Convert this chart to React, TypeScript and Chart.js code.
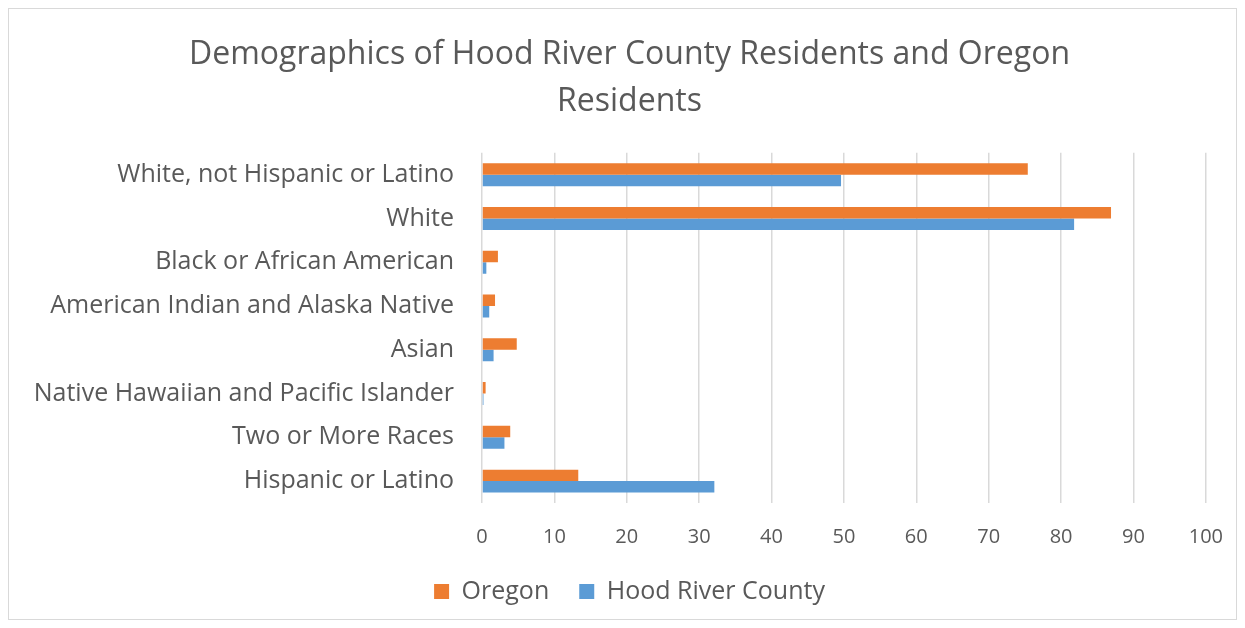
import React, { useEffect, useRef } from "react";
import { Chart, registerables } from "chart.js";

Chart.register(...registerables);

const categories = [
  "White, not Hispanic or Latino",
  "White",
  "Black or African American",
  "American Indian and Alaska Native",
  "Asian",
  "Native Hawaiian and Pacific Islander",
  "Two or More Races",
  "Hispanic or Latino",
];
const oregon = [75.4, 86.9, 2.2, 1.8, 4.8, 0.5, 3.9, 13.3];
const hoodRiver = [49.6, 81.8, 0.6, 1.0, 1.6, 0.2, 3.1, 32.1];
const titleLines = ["Demographics of Hood River County Residents and Oregon", "Residents"];

const FONT = "'Open Sans', 'Noto Sans', sans-serif";
const TEXT = "#595959";

export default function App() {
  const ref = useRef<HTMLCanvasElement | null>(null);
  useEffect(() => {
    document.body.style.margin = "0";
    const chart = new Chart(ref.current!, {
      type: "bar",
      data: {
        labels: categories,
        datasets: [
          { label: "Oregon", data: oregon, backgroundColor: "#ED7D31", categoryPercentage: 0.524, barPercentage: 1 },
          { label: "Hood River County", data: hoodRiver, backgroundColor: "#5B9BD5", categoryPercentage: 0.524, barPercentage: 1 },
        ],
      },
      options: {
        indexAxis: "y",
        animation: false,
        responsive: false,
        layout: { padding: { top: 32, right: 0, left: 14, bottom: 14 } },
        plugins: {
          title: {
            display: true,
            text: titleLines,
            color: TEXT,
            font: { family: FONT, size: 32, weight: "normal", lineHeight: 1.45 },
            padding: { top: 0, bottom: 28 },
          },
          legend: {
            position: "bottom",
            labels: {
              color: TEXT,
              font: { family: FONT, size: 25 },
              boxWidth: 15,
              boxHeight: 15,
              padding: 30,
            },
          },
          tooltip: { enabled: false },
        },
        scales: {
          x: {
            min: 0,
            max: 100,
            ticks: { stepSize: 10, color: TEXT, font: { family: FONT, size: 20 }, padding: 22 },
            grid: { color: "#D9D9D9", lineWidth: 1.5, drawTicks: false },
            border: { display: false },
            afterFit: (s: any) => {
              s.height = s.height - 22;
            },
          },
          y: {
            ticks: { color: TEXT, font: { family: FONT, size: 25 }, padding: 28 },
            grid: { display: false, drawTicks: false },
            border: { display: false },
            afterFit: (s: any) => {
              s.width = 468;
            },
          },
          yRight: {
            position: "right",
            type: "linear",
            display: true,
            ticks: { display: false },
            grid: { display: false, drawTicks: false },
            border: { display: false },
            afterFit: (s: any) => {
              s.width = 38;
            },
          },
        },
      },
      plugins: [
        {
          id: "frame",
          beforeDraw: (c: any) => {
            const ctx = c.ctx;
            ctx.save();
            ctx.fillStyle = "#fff";
            ctx.fillRect(0, 0, c.width, c.height);
            ctx.strokeStyle = "#D9D9D9";
            ctx.lineWidth = 1;
            ctx.strokeRect(8.5, 8.5, c.width - 17, c.height - 17);
            ctx.restore();
          },
        },
      ],
    });
    return () => chart.destroy();
  }, []);
  return <canvas ref={ref} width={1245} height={628} style={{ display: "block" }} />;
}
